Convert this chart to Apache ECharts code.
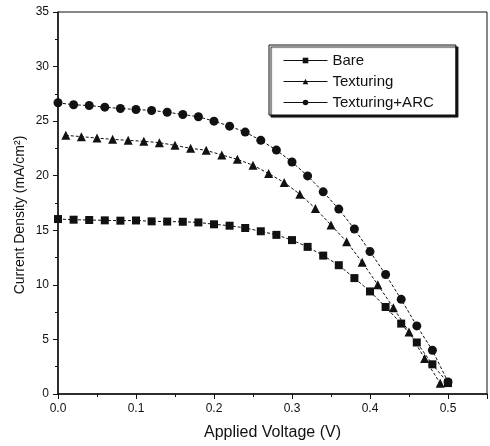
<!DOCTYPE html>
<html>
<head>
<meta charset="utf-8">
<script src="https://cdn.jsdelivr.net/npm/echarts@6/dist/echarts.min.js"></script>
<style>html,body{margin:0;padding:0;background:#fff}#c{width:490px;height:446px}</style>
</head>
<body>
<div id="c"></div>
<script>
// Data
var seriesNames = ['Bare', 'Texturing', 'Texturing+ARC'];
var bareV = [0,0.02,0.04,0.06,0.08,0.10,0.12,0.14,0.16,0.18,0.20,0.22,0.24,0.26,0.28,0.30,0.32,0.34,0.36,0.38,0.40,0.42,0.44,0.46,0.48,0.50];
var bareJ = [16.03,15.97,15.94,15.91,15.88,15.90,15.82,15.80,15.78,15.72,15.55,15.42,15.21,14.91,14.58,14.10,13.48,12.68,11.80,10.62,9.40,7.97,6.45,4.72,2.72,1.00];
var texV = [0.01,0.03,0.05,0.07,0.09,0.11,0.13,0.15,0.17,0.19,0.21,0.23,0.25,0.27,0.29,0.31,0.33,0.35,0.37,0.39,0.41,0.43,0.45,0.47,0.49];
var texJ = [23.70,23.58,23.45,23.33,23.24,23.15,23.03,22.78,22.51,22.33,21.90,21.50,20.96,20.20,19.38,18.31,17.00,15.48,13.96,12.08,10.01,7.90,5.69,3.26,0.98];
var arcV = [0,0.02,0.04,0.06,0.08,0.10,0.12,0.14,0.16,0.18,0.20,0.22,0.24,0.26,0.28,0.30,0.32,0.34,0.36,0.38,0.40,0.42,0.44,0.46,0.48,0.50];
var arcJ = [26.68,26.50,26.43,26.28,26.16,26.07,25.98,25.82,25.61,25.40,25.00,24.54,24.00,23.24,22.35,21.26,19.98,18.52,16.94,15.12,13.05,10.95,8.67,6.24,4.01,1.10];
var xTitle = 'Applied Voltage (V)';
var yTitle = 'Current Density (mA/cm²)';

function pairs(xs, ys) { return xs.map(function (x, i) { return [x, ys[i]]; }); }

var chart = echarts.init(document.getElementById('c'), null, {renderer: 'canvas'});
var font = 'Liberation Sans, Arial, sans-serif';
var lineStyle = {color: '#111', width: 1, type: [3, 2]};
function mkSeries(name, data, symbol, size) {
  return {
    name: name, type: 'line', data: data, symbol: symbol, symbolSize: size,
    itemStyle: {color: '#111'}, lineStyle: lineStyle, showSymbol: true, animation: false
  };
}
chart.setOption({
  animation: false,
  backgroundColor: '#fff',
  grid: {left: 58, right: 3, top: 12, bottom: 50, show: true, borderColor: '#111', borderWidth: 1},
  legend: {
    data: seriesNames, orient: 'vertical', left: 269, top: 45,
    padding: [8, 22, 5, 14], itemGap: 6, itemWidth: 44, itemHeight: 7,
    backgroundColor: '#fff', borderColor: '#111', borderWidth: 1,
    shadowColor: '#111', shadowOffsetX: 2, shadowOffsetY: 2, shadowBlur: 1,
    lineStyle: {type: 'solid', width: 1, color: '#111'},
    textStyle: {fontFamily: font, fontSize: 15, color: '#111'},
    selectedMode: false
  },
  xAxis: {
    type: 'value', min: 0, max: 0.55, interval: 0.1,
    name: xTitle, nameLocation: 'middle', nameGap: 31,
    nameTextStyle: {fontFamily: font, fontSize: 16, color: '#111'},
    axisLine: {lineStyle: {color: '#111', width: 1.5}},
    axisTick: {length: 5, lineStyle: {color: '#111'}},
    minorTick: {show: true, splitNumber: 2, length: 3, lineStyle: {color: '#111'}},
    splitLine: {show: false},
    axisLabel: {
      fontFamily: font, fontSize: 12, color: '#111', margin: 9,
      formatter: function (v) { return Math.abs(v * 10 - Math.round(v * 10)) < 1e-6 ? v.toFixed(1) : ''; }
    }
  },
  yAxis: {
    type: 'value', min: 0, max: 35, interval: 5,
    axisLine: {show: true, lineStyle: {color: '#111', width: 1.5}},
    axisTick: {show: true, length: 5, lineStyle: {color: '#111'}},
    minorTick: {show: true, splitNumber: 2, length: 3, lineStyle: {color: '#111'}},
    splitLine: {show: false},
    axisLabel: {fontFamily: font, fontSize: 12, color: '#111', margin: 9}
  },
  graphic: [{
    type: 'text', x: 20, y: 215, rotation: Math.PI / 2,
    style: {text: yTitle, fontFamily: font, fontSize: 14, fill: '#111', textAlign: 'center', textVerticalAlign: 'middle'}
  }],
  series: [
    mkSeries(seriesNames[0], pairs(bareV, bareJ), 'rect', 8),
    mkSeries(seriesNames[1], pairs(texV, texJ), 'triangle', 9),
    mkSeries(seriesNames[2], pairs(arcV, arcJ), 'circle', 9)
  ]
});
</script>
</body>
</html>
